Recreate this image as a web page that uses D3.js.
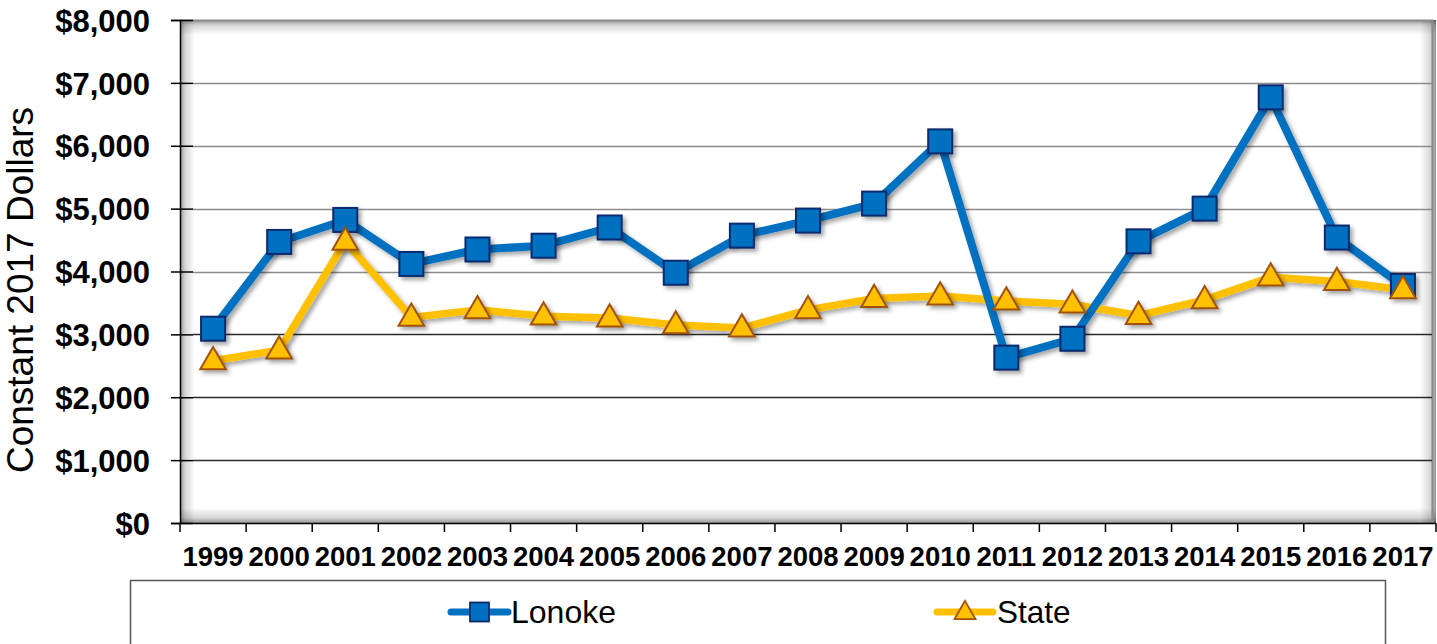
<!DOCTYPE html>
<html>
<head>
<meta charset="utf-8">
<script src="https://cdn.jsdelivr.net/npm/d3@7"></script>
<style>
  html, body { margin: 0; padding: 0; background: #fff; }
  svg { display: block; font-family: Arial, "Liberation Sans", sans-serif; }
</style>
</head>
<body>
<svg id="chart" width="1437" height="644"></svg>
<script>
// Spending per year, constant 2017 dollars
const years = ["1999","2000","2001","2002","2003","2004","2005","2006","2007","2008",
               "2009","2010","2011","2012","2013","2014","2015","2016","2017"];
const lonoke = [3090, 4470, 4820, 4120, 4350, 4410, 4700, 3980, 4570, 4810,
                5080, 6070, 2630, 2930, 4480, 5000, 6770, 4540, 3770];
const state  = [2580, 2750, 4480, 3270, 3390, 3290, 3260, 3150, 3100, 3390,
                3570, 3610, 3530, 3480, 3300, 3550, 3910, 3840, 3710];
const yTicks = [0, 1000, 2000, 3000, 4000, 5000, 6000, 7000, 8000];
const seriesNames = ["Lonoke", "State"];

const svg = d3.select("#chart");
const plotL = 180, plotR = 1436, plotT = 20, plotB = 523;

const x = d3.scaleBand().domain(years).range([plotL, plotR]).padding(0);
const y = d3.scaleLinear().domain([0, 8000]).range([plotB, plotT]);
const fmt = v => "$" + d3.format(",")(v);

const defs = svg.append("defs");

// edge gradients that give the plot area a recessed look
const shadeDefs = [
  { id: "shL", x1: 0, y1: 0, x2: 1, y2: 0 },
  { id: "shR", x1: 1, y1: 0, x2: 0, y2: 0 },
  { id: "shT", x1: 0, y1: 0, x2: 0, y2: 1 },
  { id: "shB", x1: 0, y1: 1, x2: 0, y2: 0 }
];
shadeDefs.forEach(s => {
  const g = defs.append("linearGradient").attr("id", s.id)
    .attr("x1", s.x1).attr("y1", s.y1).attr("x2", s.x2).attr("y2", s.y2);
  g.append("stop").attr("offset", 0).attr("stop-color", "#000").attr("stop-opacity", 0.42);
  g.append("stop").attr("offset", 0.35).attr("stop-color", "#000").attr("stop-opacity", 0.16);
  g.append("stop").attr("offset", 1).attr("stop-color", "#000").attr("stop-opacity", 0);
});

// soft drop shadow for lines and markers
const drop = defs.append("filter").attr("id", "drop")
  .attr("x", "-20%").attr("y", "-20%").attr("width", "140%").attr("height", "140%");
drop.append("feDropShadow").attr("dx", 3).attr("dy", 3).attr("stdDeviation", 2.2)
  .attr("flood-color", "#000").attr("flood-opacity", 0.35);

// plot area background
svg.append("rect")
  .attr("x", plotL).attr("y", plotT)
  .attr("width", plotR - plotL).attr("height", plotB - plotT)
  .attr("fill", "#fff");

const sh = svg.append("g");
const sw = 15;
sh.append("rect").attr("x", plotL).attr("y", plotT).attr("width", sw).attr("height", plotB - plotT).attr("fill", "url(#shL)");
sh.append("rect").attr("x", plotR - sw - 1).attr("y", plotT).attr("width", sw + 1).attr("height", plotB - plotT).attr("fill", "url(#shR)");
sh.append("rect").attr("x", plotL).attr("y", plotT).attr("width", plotR - plotL).attr("height", sw).attr("fill", "url(#shT)");
sh.append("rect").attr("x", plotL).attr("y", plotB - sw).attr("width", plotR - plotL).attr("height", sw).attr("fill", "url(#shB)");

// frame top and right
svg.append("path")
  .attr("d", `M${plotL},${plotT + 0.5}H${plotR - 3.5}V${plotB}`)
  .attr("fill", "none").attr("stroke", "#8a8a8a").attr("stroke-width", 2);

// horizontal gridlines
svg.append("g").selectAll("line")
  .data(yTicks.filter(d => d > 0 && d < 8000))
  .join("line")
  .attr("x1", plotL + 13).attr("x2", plotR - 4)
  .attr("y1", d => Math.round(y(d)) + 0.5).attr("y2", d => Math.round(y(d)) + 0.5)
  .attr("stroke", d => d <= 3000 ? "#2a2a2a" : "#8c8c8c")
  .attr("stroke-width", 1.6);

// y axis
const yAxis = svg.append("g").attr("transform", `translate(${plotL},0)`)
  .call(d3.axisLeft(y).tickValues(yTicks).tickFormat(fmt).tickSize(9).tickPadding(21));
yAxis.select(".domain").attr("stroke", "#000").attr("stroke-width", 1.5);
yAxis.selectAll(".tick line").attr("stroke", "#000").attr("stroke-width", 1.5)
  .attr("x1", 13);
yAxis.selectAll(".tick text")
  .attr("font-size", 31).attr("font-weight", "bold").attr("fill", "#000")
  .attr("font-family", "Arial, 'Liberation Sans', sans-serif")
  .attr("dy", "0.36em");

// x axis: ticks on category boundaries
const xAxisG = svg.append("g").attr("transform", `translate(0,${plotB})`);
xAxisG.append("line").attr("x1", plotL).attr("x2", plotR)
  .attr("y1", 0.5).attr("y2", 0.5).attr("stroke", "#000").attr("stroke-width", 1.5);
const edges = years.map(d => x(d)).concat([plotR]);
xAxisG.selectAll("line.tk").data(edges).join("line").attr("class", "tk")
  .attr("x1", d => d).attr("x2", d => d).attr("y1", 0).attr("y2", 9)
  .attr("stroke", "#000").attr("stroke-width", 1.5);
xAxisG.selectAll("text").data(years).join("text")
  .attr("x", d => x(d) + x.bandwidth() / 2)
  .attr("y", 43)
  .attr("text-anchor", "middle")
  .attr("font-size", 27.5).attr("font-weight", "bold").attr("fill", "#000")
  .text(d => d);

// y axis title
svg.append("text")
  .attr("transform", `translate(33,290) rotate(-90)`)
  .attr("text-anchor", "middle")
  .attr("font-size", 37).attr("fill", "#000")
  .text("Constant 2017 Dollars");

const cx = d => x(d) + x.bandwidth() / 2;
const line = d3.line().x(d => cx(d.year)).y(d => y(d.value));
const lonokeData = years.map((yr, i) => ({ year: yr, value: lonoke[i] }));
const stateData = years.map((yr, i) => ({ year: yr, value: state[i] }));

const blue = "#0070C0", blueEdge = "#0B2A6E";
const gold = "#FFC000", goldEdge = "#A0520A";
const tri = d3.symbol().type(d3.symbolTriangle);

// series lines first, then markers on top
const gLines = svg.append("g").attr("filter", "url(#drop)");
gLines.append("path").datum(stateData).attr("d", line)
  .attr("fill", "none").attr("stroke", gold).attr("stroke-width", 7.5)
  .attr("stroke-linejoin", "round");
gLines.append("path").datum(lonokeData).attr("d", line)
  .attr("fill", "none").attr("stroke", blue).attr("stroke-width", 8)
  .attr("stroke-linejoin", "round");

const gMarks = svg.append("g").attr("filter", "url(#drop)");
gMarks.selectAll("rect").data(lonokeData).join("rect")
  .attr("x", d => cx(d.year) - 12).attr("y", d => y(d.value) - 12)
  .attr("width", 24).attr("height", 24)
  .attr("fill", blue).attr("stroke", blueEdge).attr("stroke-width", 2);
gMarks.selectAll("path.m").data(stateData).join("path").attr("class", "m")
  .attr("d", tri.size(285)())
  .attr("transform", d => `translate(${cx(d.year)},${y(d.value) + 1})`)
  .attr("fill", gold).attr("stroke", goldEdge).attr("stroke-width", 2)
  .attr("stroke-linejoin", "miter");

// legend
const lg = svg.append("g");
lg.append("rect").attr("x", 130.5).attr("y", 580.5).attr("width", 1255).attr("height", 100)
  .attr("fill", "#fff").attr("stroke", "#555").attr("stroke-width", 1.5);

const legendItems = [
  { name: seriesNames[0], x0: 451, x1: 508, tx: 511, size: 32, color: blue },
  { name: seriesNames[1], x0: 937, x1: 993, tx: 997, size: 31.5, color: gold }
];
legendItems.forEach((it, i) => {
  const g = lg.append("g");
  const cy = 612;
  g.append("line").attr("x1", it.x0).attr("x2", it.x1).attr("y1", cy).attr("y2", cy)
    .attr("stroke", it.color).attr("stroke-width", 7).attr("stroke-linecap", "round");
  const mx = (it.x0 + it.x1) / 2;
  if (i === 0) {
    g.append("rect").attr("x", mx - 9.5).attr("y", cy - 9.5).attr("width", 19).attr("height", 19)
      .attr("fill", blue).attr("stroke", blueEdge).attr("stroke-width", 1.8);
  } else {
    g.append("path").attr("d", tri.size(190)())
      .attr("transform", `translate(${mx},${cy + 1})`)
      .attr("fill", gold).attr("stroke", goldEdge).attr("stroke-width", 1.8);
  }
  g.append("text").attr("x", it.tx).attr("y", 623)
    .attr("font-size", it.size).attr("fill", "#000").text(it.name);
});
</script>
</body>
</html>
